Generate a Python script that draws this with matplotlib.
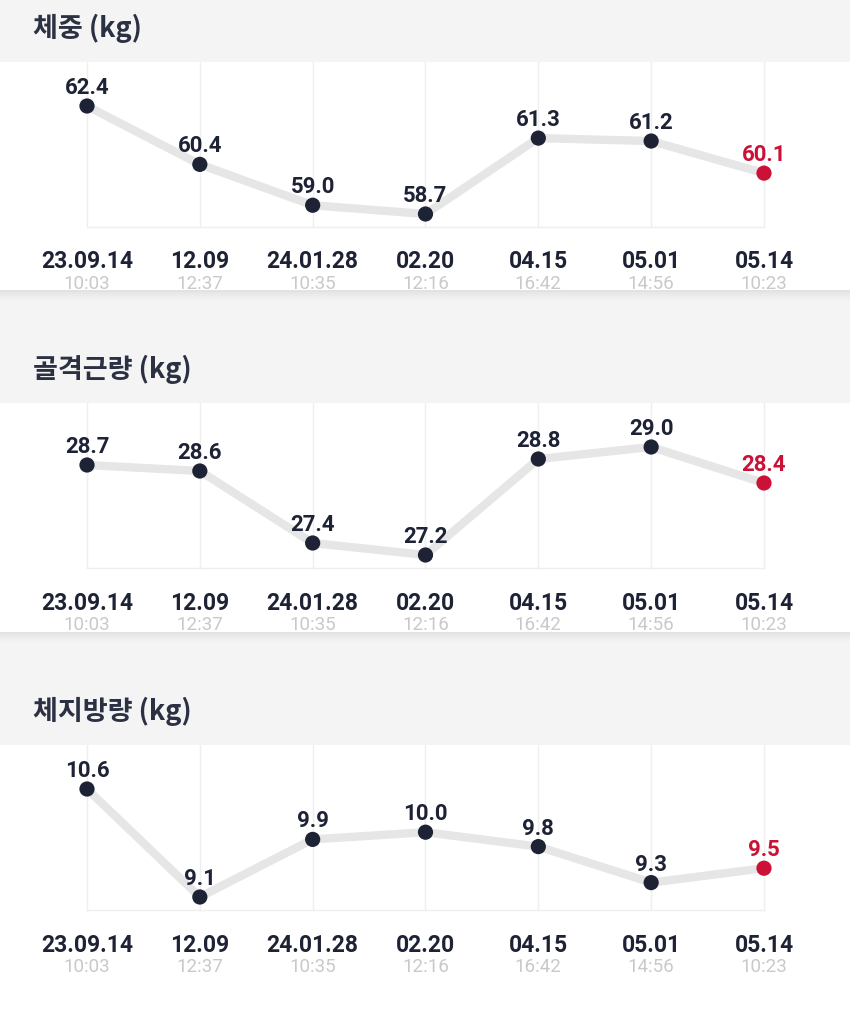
import matplotlib.pyplot as plt
from matplotlib.patches import Rectangle
from matplotlib.transforms import blended_transform_factory

dates = ["23.09.14", "12.09", "24.01.28", "02.20", "04.15", "05.01", "05.14"]
times = ["10:03", "12:37", "10:35", "12:16", "16:42", "14:56", "10:23"]

titles = ["체중 (kg)", "골격근량 (kg)", "체지방량 (kg)"]
weight = [62.4, 60.4, 59.0, 58.7, 61.3, 61.2, 60.1]
muscle = [28.7, 28.6, 27.4, 27.2, 28.8, 29.0, 28.4]
fat = [10.6, 9.1, 9.9, 10.0, 9.8, 9.3, 9.5]
series = [weight, muscle, fat]

W, H = 850, 1014
BG = "#f4f4f5"
NAVY = "#1d2235"
TITLE_C = "#2b3142"
RED = "#cc1136"
LINE_C = "#e6e6e6"
GRID_C = "#efefef"
TIME_C = "#c9c9cb"

plt.rcParams['font.family'] = ['Roboto', 'Noto Sans CJK KR', 'DejaVu Sans']

fig = plt.figure(figsize=(W / 100, H / 100), dpi=100)
fig.patch.set_facecolor(BG)

# panel tops / bottoms in pixels
panels = [(62, 290), (403, 632), (745, 1014)]
x_first, x_step = 87, 112.83


def fy(py):
    return 1 - py / H


for (top, bot), title, vals in zip(panels, titles, series):
    ph = bot - top
    ax = fig.add_axes([0, fy(bot), 1, ph / H])
    ax.set_facecolor("white")
    for s in ax.spines.values():
        s.set_visible(False)
    ax.set_xticks([])
    ax.set_yticks([])

    n = len(vals)
    ax.set_xlim(-x_first / x_step, (W - x_first) / x_step)
    vmax, vmin = max(vals), min(vals)
    scale = (vmax - vmin) / 108.0
    ytop = vmax + 44 * scale
    ax.set_ylim(ytop - ph * scale, ytop)

    # grid
    gb = 1 - 165 / ph
    for i in range(n):
        ax.axvline(i, ymin=gb, ymax=1, color=GRID_C, lw=1, zorder=1)
    ax.plot([0, n - 1], [ytop - 165 * scale] * 2, color=GRID_C, lw=1, zorder=1)

    xs = list(range(n))
    ax.plot(xs, vals, color=LINE_C, lw=6, solid_capstyle="round",
            solid_joinstyle="round", zorder=2)
    colors = [NAVY] * (n - 1) + [RED]
    ax.scatter(xs, vals, s=120, c=colors, zorder=3, linewidths=0)
    for x, v, c in zip(xs, vals, colors):
        ax.annotate(f"{v:.1f}", (x, v), xytext=(0, 5), textcoords="offset points",
                    ha="center", va="bottom", fontsize=16, fontweight="bold",
                    color=c, zorder=4)

    tr = blended_transform_factory(ax.transData, ax.transAxes)
    for x, d, t in zip(xs, dates, times):
        ax.text(x, 1 - 200 / ph, d, transform=tr, ha="center", va="center",
                fontsize=16.5, fontweight="bold", color=NAVY)
        ax.text(x, 1 - 222 / ph, t, transform=tr, ha="center", va="center",
                fontsize=13.5, color=TIME_C)

    fig.text(33 / W, fy(top - 34), title, ha="left", va="center",
             fontsize=19.5, fontweight="bold", color=TITLE_C,
             family=['Noto Sans CJK KR', 'DejaVu Sans'])

    # soft shadow under panel
    if bot < H:
        for k, a in enumerate([0.07, 0.05, 0.035, 0.02, 0.01]):
            fig.patches.append(Rectangle((0, fy(bot + k * 2 + 2)), 1, 2 / H,
                                         transform=fig.transFigure,
                                         color="black", alpha=a, lw=0))

fig.savefig("out.png", dpi=100, facecolor=BG)
